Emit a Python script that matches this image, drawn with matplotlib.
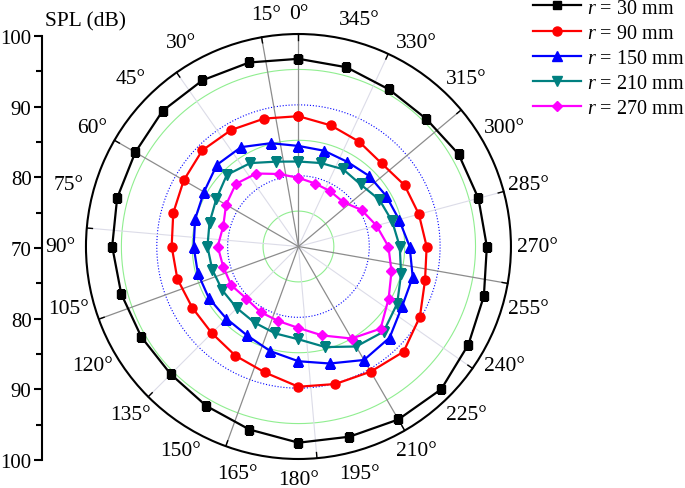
import numpy as np
import matplotlib.pyplot as plt

plt.rcParams['font.family'] = 'Liberation Serif'
plt.rcParams['mathtext.fontset'] = 'custom'
plt.rcParams['mathtext.rm'] = 'Liberation Serif'
plt.rcParams['mathtext.it'] = 'Liberation Serif:italic'

# measurement angles (deg)
angles = np.arange(0, 360, 15)

# SPL (dB) for each microphone distance
spl_30 = [96.5, 96.9, 97.1, 97.1, 96.6, 96.5, 96.3, 95.9, 95.6, 95.5, 96.0, 96.75,
          97.7, 97.8, 98.2, 98.5, 97.7, 97.1, 96.6, 96.3, 96.1, 95.5, 95.6, 96.2]
spl_90 = [88.4, 88.7, 89.0, 89.2, 88.7, 88.3, 87.9, 87.7, 87.3, 87.3, 87.8, 88.4,
          89.8, 90.1, 90.4, 91.0, 89.8, 88.5, 88.1, 87.6, 87.3, 86.6, 87.1, 87.7]
spl_150 = [84.2, 85.1, 86.2, 86.3, 85.4, 85.1, 84.8, 84.7, 84.6, 84.4, 84.5, 85.3,
           86.2, 87.1, 88.5, 88.2, 86.9, 86.7, 85.7, 84.7, 84.3, 84.1, 83.8, 84.0]
spl_210 = [82.0, 82.4, 83.6, 84.3, 83.4, 83.0, 82.85, 82.6, 82.4, 82.3, 82.4, 82.7,
           83.1, 84.7, 86.3, 87.0, 86.1, 85.0, 84.3, 83.7, 83.2, 82.4, 82.6, 82.2]
spl_270 = [79.7, 80.6, 81.9, 82.5, 81.8, 81.0, 81.4, 81.0, 80.95, 80.4, 80.7, 80.9,
           81.5, 83.0, 85.0, 86.4, 84.7, 83.6, 82.7, 81.4, 80.3, 78.9, 79.0, 79.2]

distances = ['30', '90', '150', '210', '270']
series = [spl_30, spl_90, spl_150, spl_210, spl_270]
colors = ['black', '#FF0000', '#0000FF', '#008080', '#FF00FF']
markers = ['s', 'o', '^', 'v', 'D']
msizes = [6, 6.5, 6.5, 6.5, 5.5]

# grid rings and spokes (Origin style)
minor_rings = [75, 85, 95]
major_rings = [80, 90]
major_spokes = [0, 10, 60, 110, 160, 210, 260, 310]
minor_spokes = [35, 85, 135, 185, 235, 285, 335]
spl_ticks = [100, 90, 80, 70, 80, 90, 100]

fig = plt.figure(figsize=(6.85, 4.89), dpi=100)
ax = fig.add_axes([0.1255, 0.0593, 0.6204, 0.8691], projection='polar')
ax.set_theta_zero_location('N')
ax.set_theta_direction(1)
ax.set_ylim(70, 100)
ax.grid(False)
ax.set_xticks([])
ax.set_yticks([])
ax.spines['polar'].set_linewidth(1.5)

th_full = np.radians(np.linspace(0, 360, 361))
for r in minor_rings:
    ax.plot(th_full, np.full_like(th_full, r), color='#90EE90', lw=0.8, zorder=1)
for r in major_rings:
    ax.plot(th_full, np.full_like(th_full, r), color='blue', lw=0.8, ls=':', zorder=1)
for a in minor_spokes:
    ax.plot([np.radians(a)] * 2, [70, 100], color='#DCDCE8', lw=0.8, zorder=1)
for a in major_spokes:
    ax.plot([np.radians(a)] * 2, [70, 100], color='#8C8C8C', lw=0.9, zorder=1)
for a in major_spokes + minor_spokes:
    ax.plot([np.radians(a)] * 2, [99.2, 100], color='black', lw=1.0, zorder=2,
            clip_on=False)

th = np.radians(np.append(angles, angles[0]))
for vals, d, c, m, ms in zip(series, distances, colors, markers, msizes):
    ax.plot(th, np.append(vals, vals[0]), color=c, lw=1.6, marker=m, ms=ms,
            label='$r$ = %s mm' % d, zorder=3)

# angle labels every 15 deg (the 15° one sits closer to 0° in the original)
nudge = {15: -7}
for a in angles:
    t = np.radians(a + nudge.get(a, 0))
    d = 21 + 5 * abs(np.sin(t))
    ax.annotate('%d°' % a, xy=(t, 100), xytext=(-d * np.sin(t), d * np.cos(t)),
                textcoords='offset pixels', ha='center', va='center',
                fontsize=15.5, annotation_clip=False)

# left linear SPL axis
ax2 = fig.add_axes([0.0613, 0.0573, 0.001, 0.867])
ax2.set_ylim(-30, 30)
ax2.set_xticks([])
ax2.set_yticks(np.arange(30, -31, -10))
ax2.set_yticklabels([str(v) for v in spl_ticks], fontsize=15)
ax2.set_yticks(np.arange(25, -26, -10), minor=True)
ax2.tick_params(axis='y', which='major', length=6, width=1.5, pad=1.5)
ax2.tick_params(axis='y', which='minor', length=4, width=1.5)
for s in ['top', 'right', 'bottom']:
    ax2.spines[s].set_visible(False)
ax2.spines['left'].set_linewidth(1.5)
ax2.patch.set_visible(False)
fig.text(0.066, 0.955, 'SPL (dB)', fontsize=15.5, va='center')

fig.legend(loc='upper right', bbox_to_anchor=(1.02, 1.03), frameon=False,
           fontsize=14.5, handlelength=2.4, labelspacing=0.3, handletextpad=0.3,
           borderpad=0.2)

fig.savefig('out.png', dpi=100)
